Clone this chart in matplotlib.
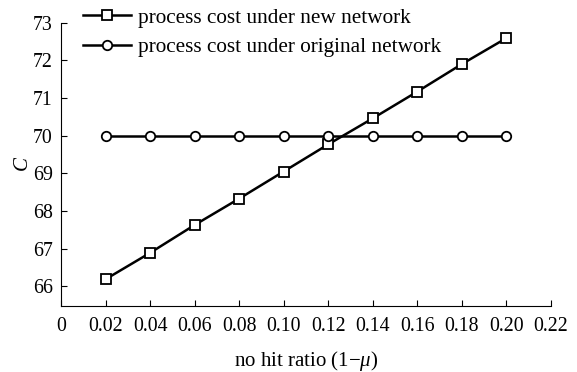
import matplotlib
matplotlib.use('Agg')
import matplotlib.pyplot as plt
import numpy as np

plt.rcParams['font.family'] = 'Liberation Serif'
plt.rcParams['mathtext.fontset'] = 'custom'
plt.rcParams['mathtext.rm'] = 'Liberation Serif'
plt.rcParams['mathtext.it'] = 'Liberation Serif:italic'

# no hit ratio (1 - mu)
miss_ratio = [0.02, 0.04, 0.06, 0.08, 0.10, 0.12, 0.14, 0.16, 0.18, 0.20]
cost_new = [66.19, 66.89, 67.63, 68.33, 69.05, 69.77, 70.46, 71.17, 71.90, 72.59]
cost_orig = [70.0, 70.0, 70.0, 70.0, 70.0, 70.0, 70.0, 70.0, 70.0, 70.0]
x_ticks = [0, 0.02, 0.04, 0.06, 0.08, 0.10, 0.12, 0.14, 0.16, 0.18, 0.20, 0.22]
x_labels = ['0', '0.02', '0.04', '0.06', '0.08', '0.10', '0.12', '0.14', '0.16', '0.18', '0.20', '0.22']
y_ticks = [66, 67, 68, 69, 70, 71, 72, 73]

fig = plt.figure(figsize=(5.77, 3.72), dpi=100)
ax = fig.add_axes([0.1057, 0.1774, 0.849, 0.7616])

ax.plot(miss_ratio, cost_new, color='black', lw=1.8, marker='s', ms=7.5,
        mfc='white', mec='black', mew=1.3, label='process cost under new network')
ax.plot(miss_ratio, cost_orig, color='black', lw=1.8, marker='o', ms=6.8,
        mfc='white', mec='black', mew=1.3, label='process cost under original network')

ax.set_xlim(0, 0.22)
ax.set_ylim(65.48, 73)
ax.set_xticks(x_ticks, x_labels)
ax.set_yticks(y_ticks)
ax.tick_params(direction='in', length=4, width=0.8, labelsize=14.3, pad=6)
ax.tick_params(axis='x', pad=8)
for s in ['top', 'right']:
    ax.spines[s].set_visible(False)

ax.set_ylabel('$C$', fontsize=15, labelpad=0)
ax.set_xlabel(r'no hit ratio (1$-\mu$)', fontsize=15, labelpad=9)

ax.legend(loc='upper left', bbox_to_anchor=(0.0276, 1.083), frameon=False,
          fontsize=15.3, handlelength=2.25, handletextpad=0.33, labelspacing=0.45,
          borderaxespad=0)

fig.savefig('out.png', dpi=100)
